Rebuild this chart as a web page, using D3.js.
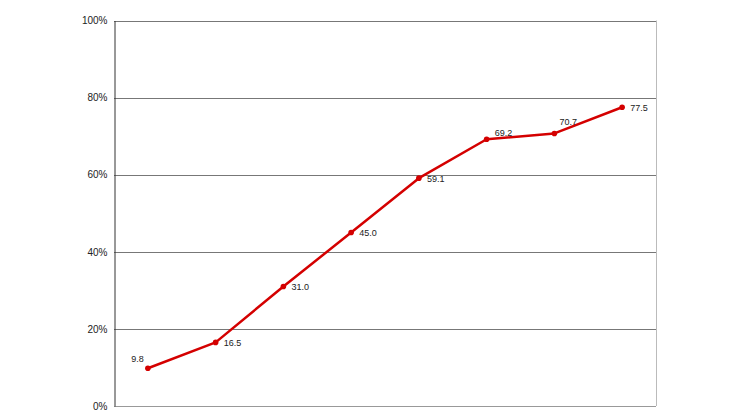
<!DOCTYPE html>
<html>
<head>
<meta charset="utf-8">
<script src="https://cdn.jsdelivr.net/npm/d3@7"></script>
<style>
  html, body { margin: 0; padding: 0; background: #fff; }
  svg { display: block; }
  text { font-family: "Liberation Sans", Arial, sans-serif; fill: #222; }
</style>
</head>
<body>
<div id="chart"></div>
<script>
// 数据
const categories = ['1', '2', '3', '4', '5', '6', '7', '8'];
const values = [9.8, 16.5, 31.0, 45.0, 59.1, 69.2, 70.7, 77.5];
const yTicks = [0, 20, 40, 60, 80, 100];
// 标签摆放位置
const labelPlacement = ['above-left', 'right', 'right', 'right', 'right', 'above-right', 'above', 'right'];

const W = 740, H = 416;
const margin = { top: 20.5, right: 84, bottom: 10, left: 114 };

const svg = d3.select('#chart').append('svg')
    .attr('width', W)
    .attr('height', H);

const x = d3.scaleBand()
    .domain(categories)
    .range([margin.left, W - margin.right]);

const y = d3.scaleLinear()
    .domain([0, 100])
    .range([H - margin.bottom, margin.top]);

const cx = c => x(c) + x.bandwidth() / 2;

// 网格线
svg.append('g')
    .selectAll('line')
    .data(yTicks.filter(t => t > 0))
    .join('line')
    .attr('x1', margin.left)
    .attr('x2', W - margin.right)
    .attr('y1', d => Math.round(y(d)) + 0.5)
    .attr('y2', d => Math.round(y(d)) + 0.5)
    .attr('stroke', '#777')
    .attr('stroke-width', 1);

// 右边框
svg.append('line')
    .attr('x1', W - margin.right + 0.5)
    .attr('x2', W - margin.right + 0.5)
    .attr('y1', y(100))
    .attr('y2', y(0))
    .attr('stroke', '#bbb');

// 底部轴线
svg.append('line')
    .attr('x1', margin.left)
    .attr('x2', W - margin.right)
    .attr('y1', Math.round(y(0)) + 0.5)
    .attr('y2', Math.round(y(0)) + 0.5)
    .attr('stroke', '#999');

// Y 轴
const yAxis = d3.axisLeft(y)
    .tickValues(yTicks)
    .tickSize(0)
    .tickPadding(7)
    .tickFormat(d => d + '%');

const gy = svg.append('g')
    .attr('transform', `translate(${margin.left + 0.5},0)`)
    .call(yAxis);
gy.select('.domain').attr('stroke', '#333');
gy.selectAll('text')
    .style('font-size', '10px')
    .style('font-family', '"Liberation Sans", Arial, sans-serif')
    .attr('fill', '#222');

// 折线
const line = d3.line()
    .x((d, i) => cx(categories[i]))
    .y(d => y(d));

svg.append('path')
    .datum(values)
    .attr('fill', 'none')
    .attr('stroke', '#d40000')
    .attr('stroke-width', 2.5)
    .attr('stroke-linejoin', 'round')
    .attr('d', line);

// 数据点
svg.append('g')
    .selectAll('circle')
    .data(values)
    .join('circle')
    .attr('cx', (d, i) => cx(categories[i]))
    .attr('cy', d => y(d))
    .attr('r', 2.8)
    .attr('fill', '#d40000');

// 数据标签
const offsets = {
    'right': { dx: 8, dy: 3.5, anchor: 'start' },
    'above-right': { dx: 8, dy: -3, anchor: 'start' },
    'above': { dx: 5, dy: -8, anchor: 'start' },
    'above-left': { dx: -4, dy: -6, anchor: 'end' }
};

svg.append('g')
    .selectAll('text')
    .data(values)
    .join('text')
    .attr('x', (d, i) => cx(categories[i]) + offsets[labelPlacement[i]].dx)
    .attr('y', d => y(d))
    .attr('dy', (d, i) => offsets[labelPlacement[i]].dy)
    .attr('text-anchor', (d, i) => offsets[labelPlacement[i]].anchor)
    .style('font-size', '9px')
    .text(d => d.toFixed(1));
</script>
</body>
</html>
